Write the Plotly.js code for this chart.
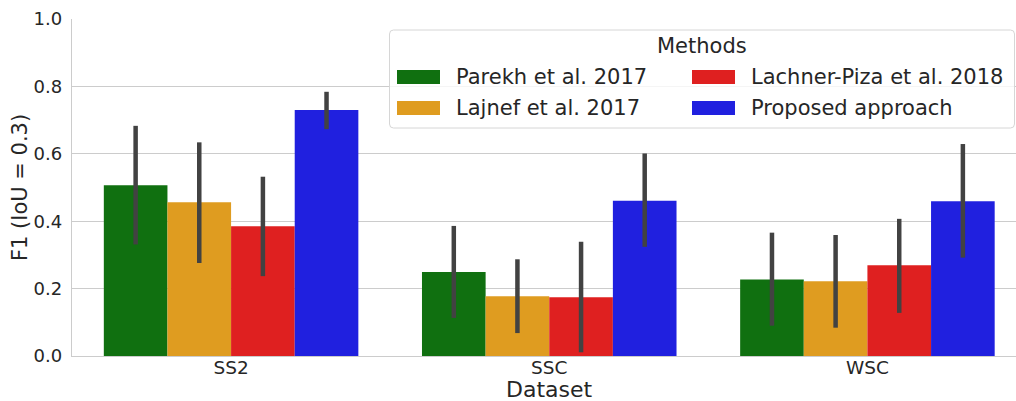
<!DOCTYPE html>
<html>
<head>
<meta charset="utf-8">
<script src="https://cdn.plot.ly/plotly-3.0.1.min.js"></script>
<style>html,body{margin:0;padding:0;background:#fff;}#chart{width:1016px;height:401px;}</style>
</head>
<body>
<div id="chart"></div>
<script>
const datasets = ['SS2', 'SSC', 'WSC'];
const methods = ['Parekh et al. 2017', 'Lajnef et al. 2017', 'Lachner-Piza et al. 2018', 'Proposed approach'];
const legendTitle = 'Methods';
const xTitle = 'Dataset';
const yTitle = 'F1 (IoU = 0.3)';

const parekh = [0.507, 0.249, 0.227];
const parekhHi = [0.683, 0.386, 0.366];
const parekhLo = [0.331, 0.113, 0.090];

const lajnef = [0.456, 0.177, 0.222];
const lajnefHi = [0.634, 0.287, 0.359];
const lajnefLo = [0.276, 0.068, 0.084];

const lachner = [0.385, 0.174, 0.269];
const lachnerHi = [0.532, 0.339, 0.407];
const lachnerLo = [0.237, 0.011, 0.128];

const proposed = [0.730, 0.461, 0.459];
const proposedHi = [0.784, 0.601, 0.629];
const proposedLo = [0.673, 0.324, 0.292];

const colors = ['#107010', '#df9c20', '#df2020', '#2020df'];
const series = [
  [parekh, parekhHi, parekhLo],
  [lajnef, lajnefHi, lajnefLo],
  [lachner, lachnerHi, lachnerLo],
  [proposed, proposedHi, proposedLo]
];

const traces = series.map((s, i) => ({
  type: 'bar',
  name: methods[i],
  x: datasets,
  y: s[0],
  marker: {color: colors[i], line: {width: 0}},
  error_y: {
    type: 'data', symmetric: false,
    array: s[0].map((v, k) => s[1][k] - v),
    arrayminus: s[0].map((v, k) => v - s[2][k]),
    color: '#424242', thickness: 4.5, width: 0
  },
  showlegend: false,
  hoverinfo: 'skip'
}));

// custom legend (paper coords) -- plot area: x 72..1016, y 19..356
const W = 944, H = 337, L = 72, T = 19;
const px = v => (v - L) / W;
const py = v => (T + H - v) / H;
function roundRect(x0, y0, x1, y1, r) {
  const X0 = px(x0), X1 = px(x1), Y0 = py(y0), Y1 = py(y1);
  const rx = r / W, ry = r / H;
  return `M${X0 + rx},${Y0} L${X1 - rx},${Y0} Q${X1},${Y0} ${X1},${Y0 - ry} L${X1},${Y1 + ry} Q${X1},${Y1} ${X1 - rx},${Y1} L${X0 + rx},${Y1} Q${X0},${Y1} ${X0},${Y1 + ry} L${X0},${Y0 - ry} Q${X0},${Y0} ${X0 + rx},${Y0} Z`;
}
const shapes = [{
  type: 'path', xref: 'paper', yref: 'paper', layer: 'above',
  path: roundRect(389.5, 30, 1014.5, 128, 4),
  fillcolor: 'rgba(255,255,255,0.8)', line: {color: '#d6d6d6', width: 1}
}];
const annotations = [{
  xref: 'paper', yref: 'paper', x: px(702), y: py(46), text: legendTitle,
  showarrow: false, xanchor: 'center', yanchor: 'middle',
  font: {family: 'DejaVu Sans', size: 21, color: '#262626'}
}, {
  xref: 'paper', yref: 'paper', x: px(549), y: py(389), text: xTitle,
  showarrow: false, xanchor: 'center', yanchor: 'middle',
  font: {family: 'DejaVu Sans', size: 22, color: '#262626'}
}];
const cols = [397, 692], rows = [77, 108];
const legendOrder = [0, 1, 2, 3];
legendOrder.forEach((m, i) => {
  const c = Math.floor(i / 2), r = i % 2;
  shapes.push({
    type: 'rect', xref: 'paper', yref: 'paper', layer: 'above',
    x0: px(cols[c]), x1: px(cols[c] + 43), y0: py(rows[r] + 7), y1: py(rows[r] - 7),
    fillcolor: colors[m], line: {width: 0}
  });
  annotations.push({
    xref: 'paper', yref: 'paper', x: px(cols[c] + 57), y: py(rows[r]), text: methods[m],
    showarrow: false, xanchor: 'left', yanchor: 'middle',
    font: {family: 'DejaVu Sans', size: 21, color: '#262626'}
  });
});

const layout = {
  width: 1016, height: 401,
  margin: {l: 72, r: 0, t: 19, b: 45, pad: 0},
  paper_bgcolor: '#ffffff', plot_bgcolor: '#ffffff',
  font: {family: 'DejaVu Sans', color: '#262626', size: 18},
  barmode: 'group', bargap: 0.2, bargroupgap: 0,
  showlegend: false,
  xaxis: {
    type: 'category', range: [-0.5, 2.467], fixedrange: true,
    showgrid: false, zeroline: false,
    showline: true, linecolor: '#cccccc', linewidth: 1.3,
    ticks: '', ticklen: 0, ticklabelstandoff: -6, tickfont: {size: 18.5, color: '#262626'}
  },
  yaxis: {
    range: [0, 1.0], dtick: 0.2, tickformat: '.1f', fixedrange: true,
    showgrid: true, gridcolor: '#cccccc', gridwidth: 1.3,
    zeroline: false, showline: true, linecolor: '#cccccc', linewidth: 1.3,
    ticks: '', ticklabelstandoff: 5, tickfont: {size: 18, color: '#262626'},
    title: {text: yTitle, font: {size: 21, color: '#262626'}, standoff: 0}
  },
  shapes: shapes,
  annotations: annotations
};

Plotly.newPlot('chart', traces, layout, {displayModeBar: false, staticPlot: true});
</script>
</body>
</html>
